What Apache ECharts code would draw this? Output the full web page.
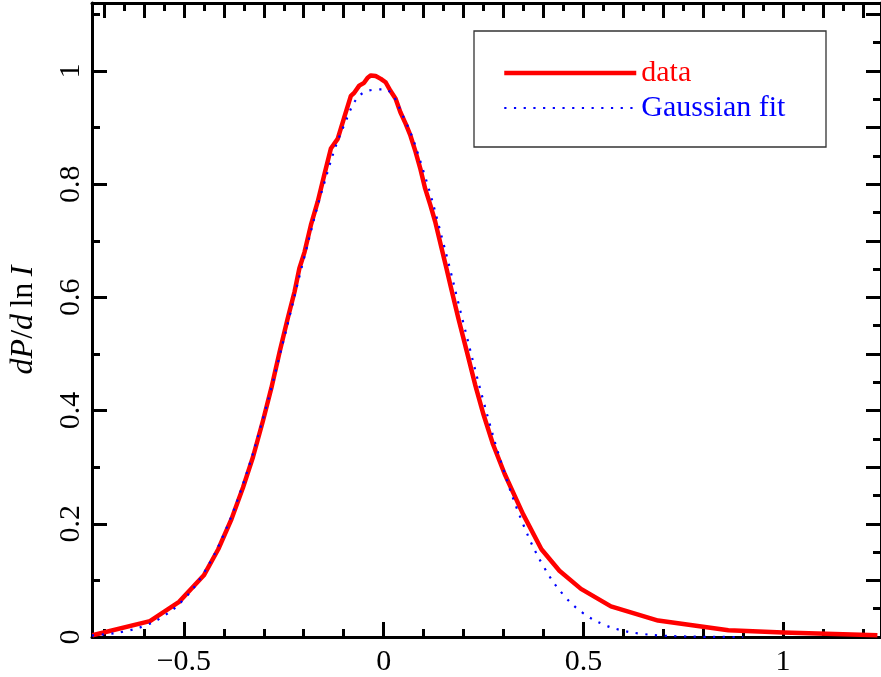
<!DOCTYPE html>
<html>
<head>
<meta charset="utf-8">
<script src="https://cdn.jsdelivr.net/npm/echarts@6/dist/echarts.min.js"></script>
<style>
html,body{margin:0;padding:0;background:#fff;}
#chart{width:881px;height:677px;}
</style>
</head>
<body>
<div id="chart"></div>
<script>
// Measured data curve (ln I, dP/dlnI)
const dataX = [-0.729,-0.585,-0.512,-0.450,-0.414,-0.381,-0.352,-0.327,-0.302,-0.281,-0.260,-0.240,-0.223,-0.211,-0.198,-0.182,-0.165,-0.149,-0.132,-0.115,-0.099,-0.082,-0.074,-0.061,-0.049,-0.040,-0.032,-0.020,-0.007,0.005,0.017,0.030,0.042,0.055,0.067,0.080,0.092,0.104,0.117,0.129,0.144,0.156,0.167,0.187,0.208,0.229,0.250,0.274,0.303,0.349,0.395,0.440,0.494,0.569,0.687,0.863,1.000,1.236];
const dataY = [0.003,0.028,0.062,0.109,0.155,0.208,0.264,0.318,0.382,0.440,0.505,0.563,0.610,0.651,0.680,0.728,0.769,0.815,0.863,0.880,0.917,0.956,0.961,0.974,0.979,0.988,0.992,0.991,0.986,0.980,0.965,0.951,0.927,0.907,0.886,0.857,0.827,0.792,0.763,0.734,0.690,0.655,0.622,0.563,0.505,0.446,0.393,0.340,0.288,0.217,0.155,0.117,0.085,0.054,0.029,0.012,0.008,0.003];

// Gaussian fit curve
const fitX = [-0.73,-0.70,-0.65,-0.60,-0.55,-0.50,-0.45,-0.40,-0.35,-0.30,-0.25,-0.20,-0.15,-0.10,-0.05,0.00,0.05,0.10,0.15,0.20,0.25,0.30,0.35,0.40,0.45,0.50,0.55,0.60,0.65,0.70,0.75,0.80,0.85,0.90];
const fitY = [0.0028,0.0045,0.0096,0.0194,0.0371,0.0667,0.1132,0.1814,0.2740,0.3906,0.5255,0.6669,0.7986,0.9023,0.9619,0.9675,0.9181,0.8221,0.6946,0.5537,0.4164,0.2955,0.1979,0.1250,0.0745,0.0419,0.0222,0.0111,0.0053,0.0023,0.0010,0.0004,0.0001,0.0000];

// Tick values
const xMajor = [-0.5, 0, 0.5, 1];
const xMinor = [-0.7,-0.6,-0.4,-0.3,-0.2,-0.1,0.1,0.2,0.3,0.4,0.6,0.7,0.8,0.9,1.1,1.2];
const topMajor = [-0.7,-0.6,-0.5,-0.4,-0.3,-0.2,-0.1,0,0.1,0.2,0.3,0.4,0.5,0.6,0.7,0.8,0.9,1,1.1,1.2];
const topMinor = [-0.65,-0.55,-0.45,-0.35,-0.25,-0.15,-0.05,0.05,0.15,0.25,0.35,0.45,0.55,0.65,0.75,0.85,0.95,1.05,1.15];
const yMajor = [0, 0.2, 0.4, 0.6, 0.8, 1];
const yMinor = [0.1, 0.3, 0.5, 0.7, 0.9, 1.1];
const rightMajor = [0,0.1,0.2,0.3,0.4,0.5,0.6,0.7,0.8,0.9,1,1.1];
const rightMinor = [0.05,0.15,0.25,0.35,0.45,0.55,0.65,0.75,0.85,0.95,1.05];

const X_MIN = -0.73, X_MAX = 1.245, Y_MIN = 0, Y_MAX = 1.12;
const FONT = '"Liberation Serif", "DejaVu Serif", serif';

function xAx(pos, ticks, len, showLine, labels) {
  return {
    type: 'value', position: pos, min: X_MIN, max: X_MAX, gridIndex: 0,
    axisLine: { show: showLine, onZero: false, lineStyle: { color: '#000', width: 3 } },
    axisTick: { show: true, inside: true, length: len, customValues: ticks, lineStyle: { color: '#000', width: 3 } },
    axisLabel: labels ? {
      show: true, customValues: labels, margin: 10, color: '#000', fontFamily: FONT, fontSize: 30,
      formatter: v => String(v).replace('-', '\u2212')
    } : { show: false },
    splitLine: { show: false }
  };
}
function yAx(pos, ticks, len, showLine, labels) {
  return {
    type: 'value', position: pos, min: Y_MIN, max: Y_MAX, gridIndex: 0,
    axisLine: { show: showLine, onZero: false, lineStyle: { color: '#000', width: 3 } },
    axisTick: { show: true, inside: true, length: len, customValues: ticks, lineStyle: { color: '#000', width: 3 } },
    axisLabel: labels ? {
      show: true, customValues: labels, margin: 6, rotate: 90, color: '#000', fontFamily: FONT, fontSize: 30
    } : { show: false },
    splitLine: { show: false }
  };
}

const yAxes = [
  yAx('left', yMajor, 15, true, yMajor),
  yAx('left', yMinor, 8, false, null),
  yAx('right', rightMajor, 15, true, null),
  yAx('right', rightMinor, 8, false, null)
];
yAxes[0].name = '{i|d}{i|P}{r|/}{i|d}{r|\u2009ln\u2009}{i|I}';
yAxes[0].nameLocation = 'middle';
yAxes[0].nameRotate = 90;
yAxes[0].nameGap = 52;
yAxes[0].nameTextStyle = {
  color: '#000', fontFamily: FONT, fontSize: 32,
  rich: {
    i: { fontFamily: FONT, fontSize: 32, fontStyle: 'italic', color: '#000' },
    r: { fontFamily: FONT, fontSize: 32, color: '#000' }
  }
};

const chart = echarts.init(document.getElementById('chart'), null, { renderer: 'canvas' });
chart.setOption({
  animation: false,
  backgroundColor: '#fff',
  grid: { left: 90, top: 3, right: -2, bottom: 37, containLabel: false },
  xAxis: [
    xAx('bottom', xMajor, 15, true, xMajor),
    xAx('bottom', xMinor, 8, false, null),
    xAx('top', topMajor, 15, true, null),
    xAx('top', topMinor, 8, false, null)
  ],
  yAxis: yAxes,
  graphic: [{
    type: 'rect', z: 50,
    shape: { x: 474, y: 31, width: 352, height: 116 },
    style: { fill: '#fff', stroke: '#333', lineWidth: 1.3 }
  }],
  legend: {
    z: 60,
    orient: 'vertical', left: 502, top: 58, padding: 0,
    itemWidth: 132, itemHeight: 14, itemGap: 5,
    selectedMode: false,
    itemStyle: { opacity: 0, borderWidth: 0 },
    textStyle: { fontFamily: FONT, fontSize: 30, lineHeight: 29 },
    data: [
      { name: 'data', textStyle: { color: '#ff0000' },
        lineStyle: { color: '#ff0000', width: 4.5, type: 'solid' } },
      { name: 'Gaussian fit', textStyle: { color: '#0000ff' },
        lineStyle: { color: '#0000ff', width: 2.2, type: [2.2, 7.5] } }
    ]
  },
  series: [
    {
      name: 'data', type: 'line', xAxisIndex: 0, yAxisIndex: 0,
      data: dataX.map((x, i) => [x, dataY[i]]),
      showSymbol: false, symbol: 'none', smooth: false,
      lineStyle: { color: '#ff0000', width: 4.5, join: 'round' },
      itemStyle: { color: '#ff0000' }
    },
    {
      name: 'Gaussian fit', type: 'line', xAxisIndex: 0, yAxisIndex: 0,
      data: fitX.map((x, i) => [x, fitY[i]]),
      showSymbol: false, symbol: 'none', smooth: 0.4,
      lineStyle: { color: '#0000ff', width: 2.2, type: [2.2, 7.5] },
      itemStyle: { color: '#0000ff' }
    }
  ]
});
</script>
</body>
</html>
